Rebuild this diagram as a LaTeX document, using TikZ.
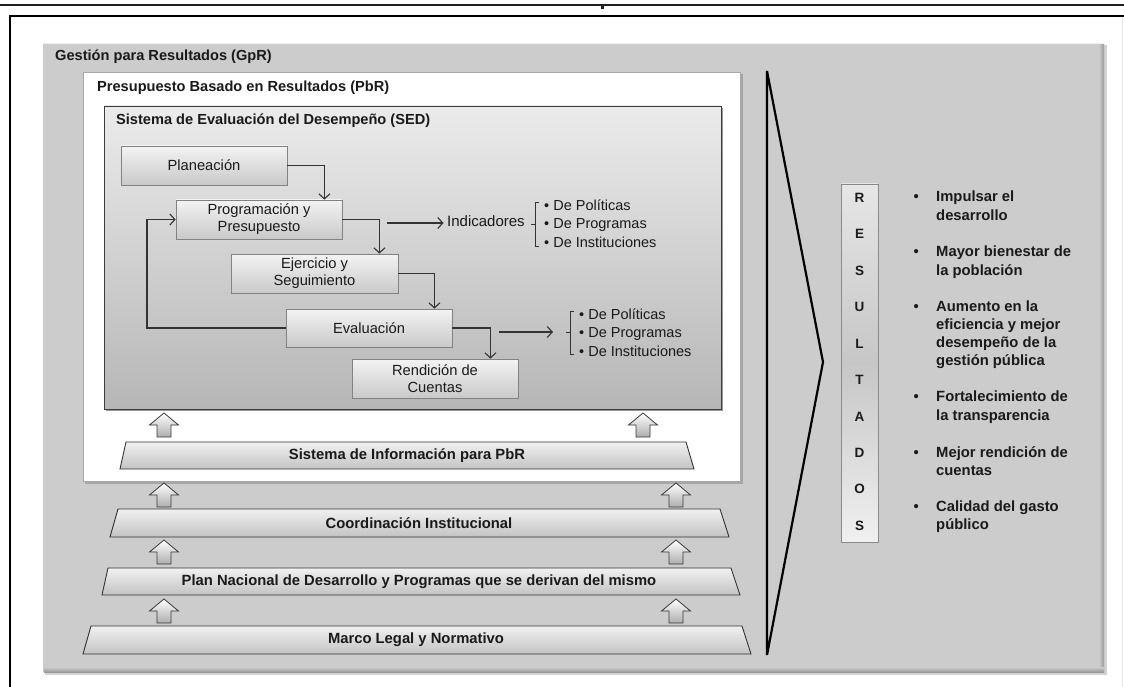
\documentclass[tikz,border=0pt]{standalone}
\usepackage{fontspec}
\setmainfont{Liberation Sans}
\usetikzlibrary{arrows.meta,calc}

\definecolor{ink}{HTML}{1A1A1A}
\definecolor{pagerule}{HTML}{202020}
\definecolor{gprfill}{HTML}{CCCCCC}
\definecolor{gpredge}{HTML}{9A9A9A}
\definecolor{pbredge}{HTML}{A8A8A8}
\definecolor{sedline}{HTML}{3C3C3C}
\definecolor{sedtop}{HTML}{EBEBEB}
\definecolor{sedbot}{HTML}{B6B6B6}
\definecolor{boxline}{HTML}{828282}
\definecolor{boxtop}{HTML}{F3F3F3}
\definecolor{boxbot}{HTML}{C9C9C9}
\definecolor{flowline}{HTML}{333333}
\definecolor{barline}{HTML}{333333}
\definecolor{bartop}{HTML}{F1F1F1}
\definecolor{barbot}{HTML}{C3C3C3}
\definecolor{arrline}{HTML}{3A3A3A}
\definecolor{arrbot}{HTML}{ADADAD}
\definecolor{resline}{HTML}{8A8A8A}
\definecolor{restop}{HTML}{E6E6E6}
\definecolor{resmid}{HTML}{C6C6C6}
\definecolor{resbot}{HTML}{F0F0F0}

\tikzset{
  uparrow/.pic={
    \path[blockarrow] (-7,0) -- (-7,-12) -- (-14.5,-12) -- (0,-24)
      -- (14.5,-12) -- (7,-12) -- (7,0) -- cycle;
  }
}

\begin{document}
\begin{tikzpicture}[x=1pt,y=-1pt,
  every node/.style={text=ink, inner sep=0pt},
  titletext/.style={anchor=west, font=\fontsize{14.6pt}{17pt}\selectfont\bfseries},
  stagebox/.style={draw=boxline, line width=0.8pt, top color=boxtop, bottom color=boxbot,
    minimum width=166pt, minimum height=39pt, align=center,
    font=\fontsize{14.7pt}{17pt}\selectfont},
  flow/.style={draw=flowline, line width=1.1pt, -{Straight Barb[length=5pt,width=11pt]}},
  link/.style={draw=flowline, line width=1.1pt},
  listline/.style={anchor=west, text height=10.5pt, text depth=3pt,
    font=\fontsize{14.5pt}{17pt}\selectfont},
  resline/.style={anchor=west, text height=10.5pt, text depth=3pt,
    font=\fontsize{14.8pt}{18pt}\selectfont\bfseries},
  bar/.style={draw=barline, line width=0.9pt, top color=bartop, bottom color=barbot},
  bartext/.style={font=\fontsize{14.8pt}{17pt}\selectfont\bfseries},
  blockarrow/.style={draw=arrline, line width=0.8pt, top color=white, bottom color=arrbot},
]
\useasboundingbox (0,0) rectangle (1124,687);
\fill[white] (0,0) rectangle (1124,687);

% page rules and frame
\draw[line width=1.6pt, pagerule] (0,5) -- (1124,5);
\fill[pagerule] (600.5,5) rectangle (603.5,9.5);
\draw[line width=2.6pt, black] (10,687) -- (10,16) -- (1124,16);
\draw[line width=0.8pt, gray!20] (1122.5,17) -- (1122.5,687);

% Gestion para Resultados panel
\fill[gray!35] (45,45) rectangle (1107,675);
\fill[gprfill] (43,43) rectangle (1104,672);
\shade[left color=gprfill, right color=gpredge] (1099,44) rectangle (1104,672);
\shade[top color=gprfill, bottom color=gpredge] (44,667) rectangle (1104,672);
\draw[line width=0.8pt, white!88!gray] (43,43.4) -- (1104,43.4);
\node[titletext] (gprtitle) at (55,57) {Gestión para Resultados (GpR)};

% Presupuesto Basado en Resultados panel
\fill[gray!70] (85,74) rectangle (743,484);
\path[fill=white, draw=pbredge, line width=0.8pt] (83,72) rectangle (740,481);
\node[titletext] (pbrtitle) at (97,88) {Presupuesto Basado en Resultados (PbR)};

% Sistema de Evaluacion del Desempeno panel
\fill[gray!80] (106,108) rectangle (723,411);
\path[draw=sedline, line width=0.9pt, top color=sedtop, bottom color=sedbot]
  (104,106) rectangle (721,409);
\node[titletext] (sedtitle) at (116,121) {Sistema de Evaluación del Desempeño (SED)};

% stages of the cycle
\node[stagebox] (plan) at (204,165.5) {Planeación};
\node[stagebox] (prog) at (259,219.5) {Programación y\\Presupuesto};
\node[stagebox, minimum width=167pt] (ejer) at (314.5,273.5) {Ejercicio y\\Seguimiento};
\node[stagebox, minimum height=38pt] (eval) at (369,328) {Evaluación};
\node[stagebox] (rend) at (435,378.5) {Rendición de\\Cuentas};

\coordinate (c1) at ([xshift=37pt]plan.east);
\coordinate (c2) at ([xshift=37pt]prog.east);
\coordinate (c3) at ([xshift=36pt]ejer.east);
\coordinate (c4) at ([xshift=38pt]eval.east);
\coordinate (loopx) at (147,328);
\draw[flow] (plan.east) -| (c1 |- prog.north);
\draw[flow] (prog.east) -| (c2 |- ejer.north);
\draw[flow] (ejer.east) -| (c3 |- eval.north);
\draw[flow] (eval.east) -| (c4 |- rend.north);
\draw[flow] (eval.west) -| (loopx |- prog.west) -- (prog.west);

% indicators
\node[listline, font=\fontsize{15pt}{17pt}\selectfont] (ind) at (447,223) {Indicadores};
\coordinate (ia) at (387,223);
\draw[flow, shorten >=3.5pt] (ia) -- (ind.west);
\draw[link, line width=0.9pt] (539,202) -- (535,202) -- (535,246) -- (539,246);
\draw[link, line width=0.9pt] (535,224) -- (530.5,224);
\node[listline] (l1a) at (544,207) {• De Políticas};
\node[listline] (l1b) at (544,225) {• De Programas};
\node[listline] (l1c) at (544,243.5) {• De Instituciones};

\coordinate (ea) at (499,332);
\coordinate (eb) at (553,332);
\draw[flow] (ea) -- (eb);
\draw[link, line width=0.9pt] (574,311) -- (570,311) -- (570,354) -- (574,354);
\draw[link, line width=0.9pt] (570,332) -- (565.5,332);
\node[listline] (l2a) at (579,316) {• De Políticas};
\node[listline] (l2b) at (579,334) {• De Programas};
\node[listline] (l2c) at (579,352.5) {• De Instituciones};

% supporting layers
\path (164,437) pic {uparrow};
\path (643,437) pic {uparrow};
\path[bar] (126,442) -- (686,442) -- (694,469) -- (120,469) -- cycle;
\node[bartext] (sip) at (407,456) {Sistema de Información para PbR};

\path (164,507) pic {uparrow};
\path (676,507) pic {uparrow};
\path[bar] (118,509) -- (720,509) -- (729,537) -- (110,537) -- cycle;
\node[bartext] (coord) at (419,523) {Coordinación Institucional};

\path (164,564) pic {uparrow};
\path (676,564) pic {uparrow};
\path[bar] (108,568) -- (731,568) -- (740,595) -- (102,595) -- cycle;
\node[bartext] (pnd) at (419,582) {Plan Nacional de Desarrollo y Programas que se derivan del mismo};

\path (164,623) pic {uparrow};
\path (676,623) pic {uparrow};
\path[bar] (91,626) -- (742,626) -- (751,654) -- (83,654) -- cycle;
\node[bartext] (marco) at (416,640) {Marco Legal y Normativo};

% wedge towards results
\coordinate (wt) at (767,71);
\coordinate (wb) at (767,655);
\coordinate (wp) at (823,362);
\draw[line width=2.2pt, black, line join=miter] (wt) -- (wb) -- (wp) -- cycle;

% results column
\node[draw=resline, line width=0.9pt, top color=restop, bottom color=resbot, middle color=resmid,
  minimum width=37pt, minimum height=358pt] (resbox) at (859.5,363) {};
\node[align=center, font=\fontsize{13.5pt}{36.45pt}\selectfont\bfseries] (resword) at (859.5,361.8)
  {R\\E\\S\\U\\L\\T\\A\\D\\O\\S};

\foreach \yy in {198,253,308,398,454,508}
  \node[resline] at (913.5,\yy) {•};
\node[resline] (r1a) at (936,198) {Impulsar el};
\node[resline] (r1b) at (936,216.5) {desarrollo};
\node[resline] (r2a) at (936,253) {Mayor bienestar de};
\node[resline] (r2b) at (936,271.5) {la población};
\node[resline] (r3a) at (936,308) {Aumento en la};
\node[resline] (r3b) at (936,326) {eficiencia y mejor};
\node[resline] (r3c) at (936,344) {desempeño de la};
\node[resline] (r3d) at (936,362) {gestión pública};
\node[resline] (r4a) at (936,398) {Fortalecimiento de};
\node[resline] (r4b) at (936,416.5) {la transparencia};
\node[resline] (r5a) at (936,454) {Mejor rendición de};
\node[resline] (r5b) at (936,471.5) {cuentas};
\node[resline] (r6a) at (936,508) {Calidad del gasto};
\node[resline] (r6b) at (936,526) {público};
\end{tikzpicture}
\end{document}
